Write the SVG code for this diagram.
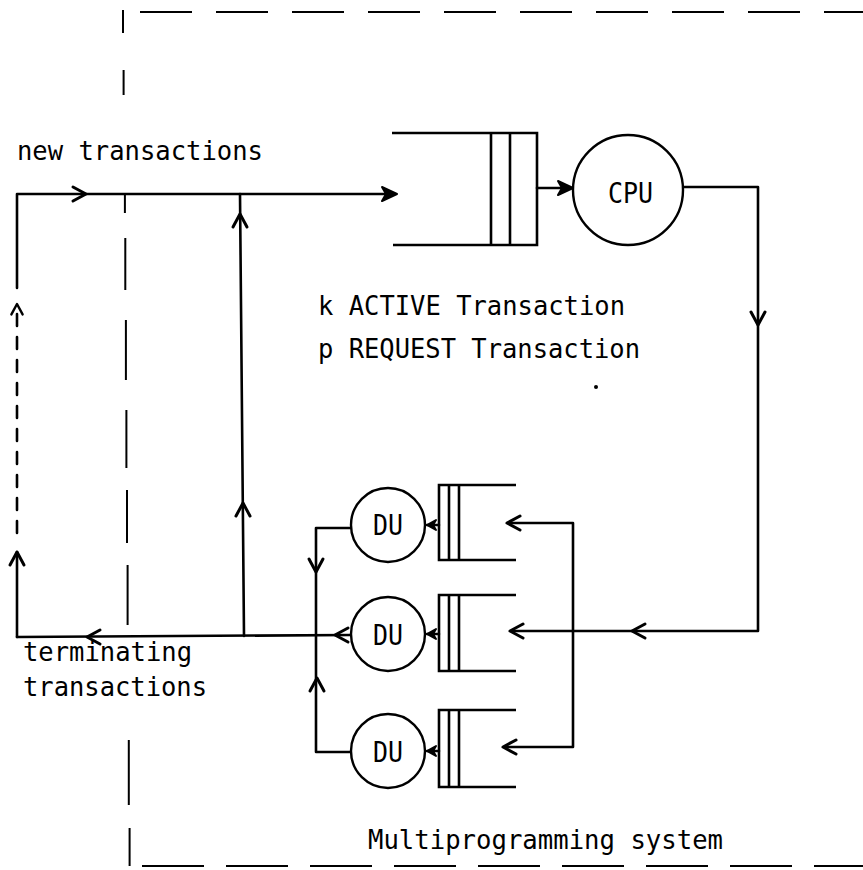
<svg xmlns="http://www.w3.org/2000/svg" xmlns:xlink="http://www.w3.org/1999/xlink" width="863" height="870" viewBox="0 0 863 870">
<style>
  .ln{fill:none;stroke:#000;stroke-width:2.6;stroke-linecap:round;stroke-linejoin:round}
  .bd{fill:none;stroke:#000;stroke-width:2}
  .nd{fill:#fff;stroke:#000;stroke-width:2.4}
  .q{fill:none;stroke:#000;stroke-width:2.6;stroke-linejoin:miter}
  .ah{fill:none;stroke:#000;stroke-width:3;stroke-linecap:round;stroke-linejoin:round}
  .af{fill:#000;stroke:#000;stroke-width:2;stroke-linejoin:round}
  text{font-family:"DejaVu Sans Mono","Liberation Mono",monospace;font-size:28px;fill:#000}
  .lbl{font-size:27px}
</style>
<defs>
  <path id="chev" d="M-13,-7 L0,0 L-13,7"/>
  <path id="tri" d="M-15,-7 L0,0 L-15,7 L-11,0 Z"/>
  <path id="sm" d="M-9,-5 L0,0 L-9,5 L-6,0 Z"/>
</defs>

<g id="boundary">
  <line class="bd" x1="140" y1="12" x2="863" y2="12" stroke-dasharray="52 24"/>
  <line class="bd" x1="142" y1="866" x2="863" y2="866" stroke-dasharray="62 22"/>
  <path class="bd" d="M123,10 V33 M123.6,70 V95 M124.9,193 V213 M125.3,238 V290 M125.9,320 V380 M126.4,410 V468 M127,490 V543 M127.6,565 V625 M128.8,740 V805 M129.6,828 V866"/>
</g>

<g id="connectors">
  <!-- new transactions main line -->
  <path class="ln" d="M17,288 V194 H395"/>
  <!-- feedback vertical -->
  <path class="ln" d="M244,636 L240,194"/>
  <!-- left dashed return -->
  <line class="ln" x1="17" y1="314" x2="17" y2="540" stroke-width="3" stroke-dasharray="12 11"/>
  <path class="ln" d="M17,552 V637"/>
  <!-- CPU queue to CPU -->
  <path class="ln" d="M537,188 H571"/>
  <!-- CPU out -->
  <path class="ln" d="M683,187 H758 V631 H512"/>
  <!-- distribution to DU queues -->
  <path class="ln" d="M509,523 H573 V747 H505"/>
  <!-- DU outputs -->
  <path class="ln" d="M351,528 H316 V752 H351"/>
  <path class="ln" d="M351,635 L17,637"/>
  <!-- queue to DU -->
  <path class="ln" d="M439,525 H427 M439,634 H427 M439,751 H427"/>

  <!-- arrowheads -->
  <use href="#tri" class="af" transform="translate(397,194)"/>
  <use href="#chev" class="ah" transform="translate(86,194)"/>
  <use href="#chev" class="ah" transform="translate(240,214) rotate(-90)"/>
  <use href="#chev" class="ah" transform="translate(243,503) rotate(-90)"/>
  <use href="#chev" class="ah" transform="translate(17,304) rotate(-90) scale(0.8)"/>
  <use href="#chev" class="ah" transform="translate(17,552) rotate(-90)"/>
  <use href="#chev" class="ah" transform="translate(87,637) rotate(180)"/>
  <use href="#tri" class="af" transform="translate(573,188)"/>
  <use href="#chev" class="ah" transform="translate(758,325) rotate(90)"/>
  <use href="#chev" class="ah" transform="translate(632,631) rotate(180)"/>
  <use href="#chev" class="ah" transform="translate(507,523) rotate(180)"/>
  <use href="#chev" class="ah" transform="translate(510,631) rotate(180)"/>
  <use href="#chev" class="ah" transform="translate(503,747) rotate(180)"/>
  <use href="#chev" class="ah" transform="translate(316,572) rotate(90)"/>
  <use href="#chev" class="ah" transform="translate(317,678) rotate(-90)"/>
  <use href="#chev" class="ah" transform="translate(335,635) rotate(180)"/>
  <use href="#sm" class="af" transform="translate(427,525) rotate(180)"/>
  <use href="#sm" class="af" transform="translate(427,634) rotate(180)"/>
  <use href="#sm" class="af" transform="translate(427,751) rotate(180)"/>
</g>

<g id="cpu-queue">
  <path class="q" d="M392,133 H537 V245 H393"/>
  <path class="q" d="M491,133 V245 M510,133 V245"/>
</g>
<g id="cpu">
  <circle class="nd" cx="628" cy="190" r="55"/>
  <text x="608" y="203" textLength="45" lengthAdjust="spacingAndGlyphs">CPU</text>
</g>

<g id="du-queue-1">
  <path class="q" d="M516,485 H439 V560 H516 M449,485 V560 M459,485 V560"/>
</g>
<g id="du-1">
  <circle class="nd" cx="388" cy="525" r="37"/>
  <text x="373" y="535" textLength="30" lengthAdjust="spacingAndGlyphs">DU</text>
</g>
<g id="du-queue-2">
  <path class="q" d="M516,595 H439 V671 H516 M449,595 V671 M459,595 V671"/>
</g>
<g id="du-2">
  <circle class="nd" cx="388" cy="634" r="37"/>
  <text x="373" y="645" textLength="30" lengthAdjust="spacingAndGlyphs">DU</text>
</g>
<g id="du-queue-3">
  <path class="q" d="M516,710 H439 V787 H516 M449,710 V787 M459,710 V787"/>
</g>
<g id="du-3">
  <circle class="nd" cx="388" cy="751" r="37"/>
  <text x="373" y="762" textLength="30" lengthAdjust="spacingAndGlyphs">DU</text>
</g>

<g id="labels">
  <text class="lbl" x="17" y="160" textLength="246" lengthAdjust="spacingAndGlyphs">new transactions</text>
  <text class="lbl" x="318" y="315" textLength="307" lengthAdjust="spacingAndGlyphs">k ACTIVE Transaction</text>
  <text class="lbl" x="318" y="358" textLength="322" lengthAdjust="spacingAndGlyphs">p REQUEST Transaction</text>
  <text class="lbl" x="23" y="661" textLength="169" lengthAdjust="spacingAndGlyphs">terminating</text>
  <text class="lbl" x="23" y="696" textLength="184" lengthAdjust="spacingAndGlyphs">transactions</text>
  <text class="lbl" x="368" y="849" textLength="355" lengthAdjust="spacingAndGlyphs">Multiprogramming system</text>
  <circle cx="596" cy="387" r="2" fill="#000"/>
</g>
</svg>
